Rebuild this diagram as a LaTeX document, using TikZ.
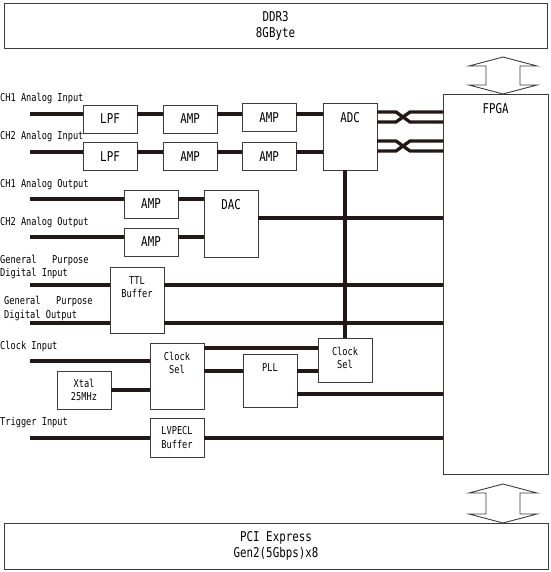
\documentclass[tikz,border=0pt]{standalone}
\usepackage{fontspec}
\newfontfamily\gothic[FakeStretch=0.8]{DejaVu Sans Mono}
\usetikzlibrary{calc,positioning}
\definecolor{wirecol}{RGB}{35,24,21}
\definecolor{boxcol}{RGB}{60,60,60}
\newdimen\hdim
\newdimen\wdim
\hdim=28pt
\wdim=54pt
\tikzstyle{block}=[
  draw=boxcol,
  fill=white,
  font={\fontsize{10.8}{13.5}\gothic},
  inner sep=0pt,
  outer sep=0pt,
  line width=.9pt,
  minimum height=\hdim,
  minimum width=\wdim,
  rectangle,
  align=center,
]
\tikzstyle{bigblock}=[
  block,
  font={\fontsize{13.5}{16}\gothic},
]
\tikzstyle{wire}=[
  color=wirecol,
  line width=3.3pt,
]
\tikzstyle{sigtext}=[
  font={\fontsize{10.8}{13.5}\gothic},
  inner sep=0pt,
  align=left,
]
\tikzstyle{bus}=[
  draw=boxcol,
  fill=white,
  line width=.9pt,
]
\tikzset{
  titletext/.style={anchor=north, yshift=-9pt, inner sep=0pt, align=center},
  titled/.style={label={[titletext, font={\fontsize{10.8}{13.5}\gothic}]north:#1}},
  bigtitled/.style={label={[titletext, font={\fontsize{13.5}{16}\gothic}]north:#1}},
}
\newcommand\busarrow[2]{%
  \draw [bus] (#1) -- ++(-34,-9) -- ++(17,0) -- ++(0,-#2) -- ++(-17,0)
  -- ++(34,-9) -- ++(34,9) -- ++(-17,0) -- ++(0,#2) -- ++(17,0) -- cycle;}

\begin{document}
\begin{tikzpicture}[x=1pt, y=-1pt]
     \useasboundingbox (0,0) rectangle (550,572);
     \node (ddr) [bigblock, minimum width=543pt, minimum height=45pt] at (275.5,25.5) {DDR3\\8GByte};
     \node (fpga) [bigblock, bigtitled=FPGA, anchor=north west, minimum width=105pt, minimum height=380pt] at (443,94) {};
     \node (pci) [bigblock, minimum width=544pt, minimum height=46pt] at (276,546) {PCI Express\\Gen2(5Gbps)x8};
     \coordinate (ddrbus) at ($(fpga.north)+(7.5,0)$);
     \coordinate (pcibus) at (pci.north -| ddrbus);
     \busarrow{ddrbus}{19}
     \busarrow{pcibus}{21}
     %% analog inputs
     \node (lpfA) [bigblock] at (110,119) {LPF};
     \node (ampA1) [bigblock, right=26pt of lpfA] {AMP};
     \node (ampA2) [bigblock, right=25pt of ampA1, yshift=1.5pt] {AMP};
     \node (adc) [bigblock, bigtitled=ADC, anchor=north west, minimum height=67pt] at (323,103) {};
     \node (lpfB) [bigblock] at (110,156.5) {LPF};
     \node (ampB1) [bigblock, right=26pt of lpfB] {AMP};
     \node (ampB2) [bigblock, right=25pt of ampB1] {AMP};
     %% analog outputs
     \node (ampC1) [bigblock] at (151,204) {AMP};
     \node (ampC2) [bigblock] at (151,242) {AMP};
     \node (dac) [bigblock, bigtitled=DAC, anchor=north west, minimum height=67pt] at (204,190) {};
     %% digital, clock, trigger
     \node (ttl) [block, titled={TTL\\Buffer}, anchor=north west, minimum height=66pt] at (110,267) {};
     \node (cselA) [block, titled={Clock\\Sel}, anchor=north west, minimum height=66pt] at (150,343) {};
     \node (xtal) [block, minimum height=38pt] at (84,390) {Xtal\\25MHz};
     \node (pll) [block, titled=PLL, anchor=north west, minimum height=53pt] at (243,354) {};
     \node (cselB) [block, titled={Clock\\Sel}, anchor=north west, minimum height=44pt] at (318,338) {};
     \node (lvpecl) [block, minimum height=39pt] at (177,437.5) {LVPECL\\Buffer};
     %% signal names
     \node (ch1inname) [sigtext, anchor=base west] at (0,102) {CH1 Analog Input};
     \node (ch2inname) [sigtext, anchor=base west] at (0,140) {CH2 Analog Input};
     \node (ch1outname) [sigtext, anchor=base west] at (0,187) {CH1 Analog Output};
     \node (ch2outname) [sigtext, anchor=base west] at (0,225) {CH2 Analog Output};
     \node (gpiname) [sigtext, anchor=west] at (0,267) {General\ \ \ Purpose\\Digital Input};
     \node (gponame) [sigtext, anchor=west] at (4,308.5) {General\ \ \ Purpose\\Digital Output};
     \node (clkname) [sigtext, anchor=base west] at (0,349) {Clock Input};
     \node (trgname) [sigtext, anchor=base west] at (0,425) {Trigger Input};
     %% analog input wires
     \coordinate (ch1in) at (30,114);
     \coordinate (ch2in) at (30,152);
     \foreach \ch/\lpf/\ampa/\ampb in {ch1in/lpfA/ampA1/ampA2, ch2in/lpfB/ampB1/ampB2} {
       \draw [wire] (\ch) -- (\ch -| \lpf.west);
       \draw [wire] (\ch -| \lpf.east) -- (\ch -| \ampa.west);
       \draw [wire] (\ch -| \ampa.east) -- (\ch -| \ampb.west);
       \draw [wire] (\ch -| \ampb.east) -- (\ch -| adc.west);
     }
     \foreach \ya/\yb in {112/122, 141/151} {
       \draw [wire] (adc.east |- 0,\ya) -- (396,\ya) -- (410,\yb) -- (fpga.west |- 0,\yb);
       \draw [wire] (adc.east |- 0,\yb) -- (396,\yb) -- (410,\ya) -- (fpga.west |- 0,\ya);
     }
     %% analog output wires
     \coordinate (ch1out) at (30,199);
     \coordinate (ch2out) at (30,237);
     \draw [wire] (ch1out) -- (ch1out -| ampC1.west);
     \draw [wire] (ch1out -| ampC1.east) -- (ch1out -| dac.west);
     \draw [wire] (ch2out) -- (ch2out -| ampC2.west);
     \draw [wire] (ch2out -| ampC2.east) -- (ch2out -| dac.west);
     \coordinate (dacout) at (dac.east |- 0,218);
     \draw [wire] (dacout) -- (dacout -| fpga.west);
     %% digital wires
     \coordinate (gpi) at (30,285);
     \coordinate (gpo) at (30,323);
     \foreach \g in {gpi, gpo} {
       \draw [wire] (\g) -- (\g -| ttl.west);
       \draw [wire] (\g -| ttl.east) -- (\g -| fpga.west);
     }
     %% clock wires
     \coordinate (clkin) at (30,361);
     \draw [wire] (clkin) -- (clkin -| cselA.west);
     \draw [wire] (xtal.east) -- (xtal -| cselA.west);
     \coordinate (cselAout) at (cselA.east |- 0,348);
     \draw [wire] (cselAout) -- (cselAout -| cselB.west);
     \coordinate (pllin) at (cselA.east |- 0,371);
     \draw [wire] (pllin) -- (pllin -| pll.west);
     \draw [wire] (pllin -| pll.east) -- (pllin -| cselB.west);
     \coordinate (pllout) at (pll.east |- 0,394);
     \draw [wire] (pllout) -- (pllout -| fpga.west);
     \draw [wire] (cselB.north) -- (cselB.north |- adc.south);
     %% trigger wires
     \coordinate (trgin) at (30,438);
     \draw [wire] (trgin) -- (trgin -| lvpecl.west);
     \draw [wire] (trgin -| lvpecl.east) -- (trgin -| fpga.west);
\end{tikzpicture}
\end{document}
